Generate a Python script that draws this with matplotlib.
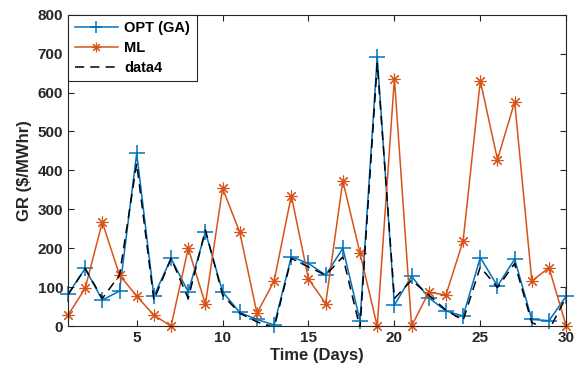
import matplotlib.pyplot as plt
import numpy as np

# Dados
days = np.arange(1, 31)
opt_ga = [82, 148, 67, 90, 444, 77, 174, 88, 242, 88, 35, 17, 3, 178, 161,
          131, 200, 14, 692, 54, 128, 73, 39, 26, 176, 103, 172, 17, 14, 77]
ml = [28, 97, 267, 131, 77, 28, 0, 200, 56, 354, 241, 33, 116, 335, 121,
      58, 373, 187, 0, 636, 0, 87, 80, 219, 630, 428, 576, 116, 150, 0]
data4 = [80, 148, 71, 131, 418, 67, 174, 71, 247, 80, 33, 11, -5, 174, 152,
         131, 178, -5, 675, 71, 118, 80, 41, 15, 152, 99, 161, 9, -10, 75]

plt.rcParams['font.family'] = ['Liberation Sans', 'DejaVu Sans']
plt.rcParams['font.weight'] = 'bold'

fig = plt.figure(figsize=(5.76, 3.77), dpi=100)
ax = fig.add_axes([0.118, 0.135, 0.865, 0.826])

ax.plot(days, opt_ga, color='#0072BD', marker='+', markersize=11, linewidth=1.1,
        markeredgewidth=1.1, label='OPT (GA)', clip_on=False)
ax.plot(days, ml, color='#D95319', marker=(8, 2, 0), markersize=8.5, linewidth=1.1,
        markeredgewidth=0.8, label='ML', clip_on=False)
ax.plot(days, data4, color='black', linestyle=(0, (6, 4)), linewidth=1.1,
        label='data4')

ax.set_xlim(1, 30)
ax.set_ylim(0, 800)
ax.set_xticks([5, 10, 15, 20, 25, 30])
ax.set_yticks(np.arange(0, 801, 100))
ax.tick_params(direction='in', top=True, right=True, labelsize=11, length=4,
               colors='#262626')
for s in ax.spines.values():
    s.set_color('#262626')
    s.set_linewidth(0.8)

ax.set_xlabel('Time (Days)', fontsize=12, fontweight='bold', color='#262626', labelpad=2)
ax.set_ylabel('GR ($/MWhr)', fontsize=12, fontweight='bold', color='#262626', labelpad=4)

leg = ax.legend(loc='upper left', fontsize=10.5, fancybox=False, framealpha=1,
                edgecolor='#262626', borderaxespad=0, handlelength=3.0,
                borderpad=0.45, labelspacing=0.4, handletextpad=0.4,
                markerscale=0.8)
leg.get_frame().set_linewidth(0.8)

plt.savefig('out.png', dpi=100)
